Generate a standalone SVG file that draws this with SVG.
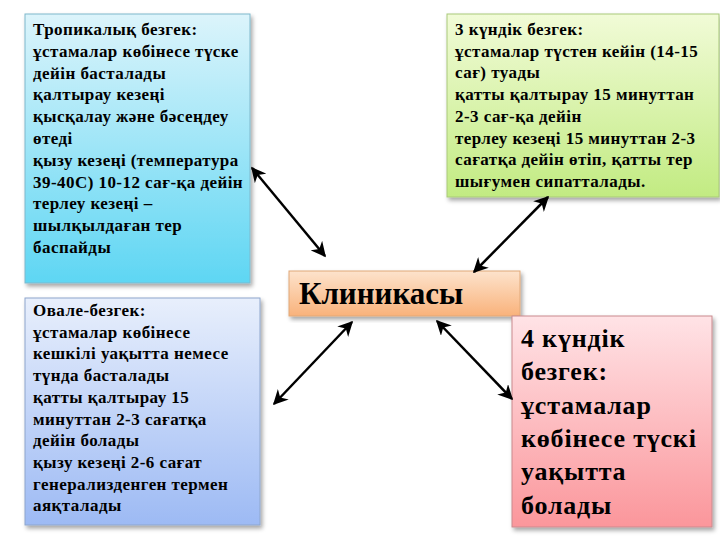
<svg xmlns="http://www.w3.org/2000/svg" width="720" height="540" viewBox="0 0 720 540">
<defs>
<linearGradient id="gCyan" x1="0" y1="0" x2="0" y2="1"><stop offset="0" stop-color="#dcf4fb"/><stop offset="1" stop-color="#5ed6f3"/></linearGradient>
<linearGradient id="gGreen" x1="0" y1="0" x2="0" y2="1"><stop offset="0" stop-color="#f1fbd7"/><stop offset="1" stop-color="#c2eb82"/></linearGradient>
<linearGradient id="gBlue" x1="0" y1="0" x2="0" y2="1"><stop offset="0" stop-color="#e8effc"/><stop offset="1" stop-color="#9dbaf4"/></linearGradient>
<linearGradient id="gOrange" x1="0" y1="0" x2="0" y2="1"><stop offset="0" stop-color="#fde3cc"/><stop offset="1" stop-color="#f9b27b"/></linearGradient>
<linearGradient id="gPink" x1="0" y1="0" x2="0" y2="1"><stop offset="0" stop-color="#ffe3e6"/><stop offset="1" stop-color="#fb969b"/></linearGradient>
<filter id="sh" x="-10%" y="-10%" width="125%" height="125%"><feDropShadow dx="2" dy="3" stdDeviation="2" flood-color="#000" flood-opacity="0.35"/></filter>
<marker id="ah" viewBox="0 0 10 10" refX="9" refY="5" markerWidth="6" markerHeight="6" orient="auto-start-reverse"><path d="M0,0 L10,5 L0,10 L3,5 Z" fill="#000"/></marker>
<style>
.box{stroke-width:1;filter:url(#sh)}
.t{font-family:"Liberation Serif","Times New Roman",serif;font-weight:bold;fill:#000}
.s{font-size:17px;letter-spacing:0.45px}
.conn line{stroke:#000;stroke-width:2.5;marker-start:url(#ah);marker-end:url(#ah)}
</style>
</defs>
<rect width="720" height="540" fill="#fff"/>
<g id="tropical">
<rect class="box" x="25" y="14" width="225" height="269" fill="url(#gCyan)" stroke="#7fb8cc"/>
<text class="t s" x="33" y="35">Тропикалық безгек:<tspan x="33" dy="21.8">ұстамалар көбінесе түске</tspan><tspan x="33" dy="21.8">дейін басталады</tspan><tspan x="33" dy="21.8">қалтырау кезеңі</tspan><tspan x="33" dy="21.8">қысқалау және бәсеңдеу</tspan><tspan x="33" dy="21.8">өтеді</tspan><tspan x="33" dy="21.8">қызу кезеңі (температура</tspan><tspan x="33" dy="21.8">39-40С) 10-12 сағ-қа дейін</tspan><tspan x="33" dy="21.8">терлеу кезеңі –</tspan><tspan x="33" dy="21.8">шылқылдаған тер</tspan><tspan x="33" dy="21.8">баспайды</tspan></text>
</g>
<g id="three-day">
<rect class="box" x="447" y="14" width="272" height="183" fill="url(#gGreen)" stroke="#a9c97a"/>
<text class="t s" x="455" y="35">3 күндік безгек:<tspan x="455" dy="21.7">ұстамалар түстен кейін (14-15</tspan><tspan x="455" dy="21.7">сағ) туады</tspan><tspan x="455" dy="21.7">қатты қалтырау 15 минуттан</tspan><tspan x="455" dy="21.7">2-3 сағ-қа дейін</tspan><tspan x="455" dy="21.7">терлеу кезеңі 15 минуттан 2-3</tspan><tspan x="455" dy="21.7">сағатқа дейін өтіп, қатты тер</tspan><tspan x="455" dy="21.7">шығумен сипатталады.</tspan></text>
</g>
<g id="ovale">
<rect class="box" x="25" y="298" width="235" height="227" fill="url(#gBlue)" stroke="#8ea6cc"/>
<text class="t s" x="33" y="316">Овале-безгек:<tspan x="33" dy="21.7">ұстамалар көбінесе</tspan><tspan x="33" dy="21.7">кешкілі уақытта немесе</tspan><tspan x="33" dy="21.7">түнда басталады</tspan><tspan x="33" dy="21.7">қатты қалтырау 15</tspan><tspan x="33" dy="21.7">минуттан 2-3 сағатқа</tspan><tspan x="33" dy="21.7">дейін болады</tspan><tspan x="33" dy="21.7">қызу кезеңі 2-6 сағат</tspan><tspan x="33" dy="21.7">генерализденген термен</tspan><tspan x="33" dy="21.7">аяқталады</tspan></text>
</g>
<g id="clinic">
<rect class="box" x="289" y="271" width="231" height="45" fill="url(#gOrange)" stroke="#e0a878"/>
<text class="t" x="299" y="304" font-size="31">Клиникасы</text>
</g>
<g id="four-day">
<rect class="box" x="512" y="316" width="200" height="211" fill="url(#gPink)" stroke="#c98a8e"/>
<text class="t" x="521" y="347" font-size="26" letter-spacing="0.8">4 күндік<tspan x="521" dy="33.3">безгек:</tspan><tspan x="521" dy="33.3">ұстамалар</tspan><tspan x="521" dy="33.3">көбінесе түскі</tspan><tspan x="521" dy="33.3">уақытта</tspan><tspan x="521" dy="33.3">болады</tspan></text>
</g>
<g id="connectors" class="conn">
<line x1="252" y1="168" x2="325" y2="256"/>
<line x1="548" y1="197" x2="474" y2="272"/>
<line x1="274" y1="404" x2="352" y2="322"/>
<line x1="437" y1="321" x2="512" y2="399"/>
</g>
</svg>
